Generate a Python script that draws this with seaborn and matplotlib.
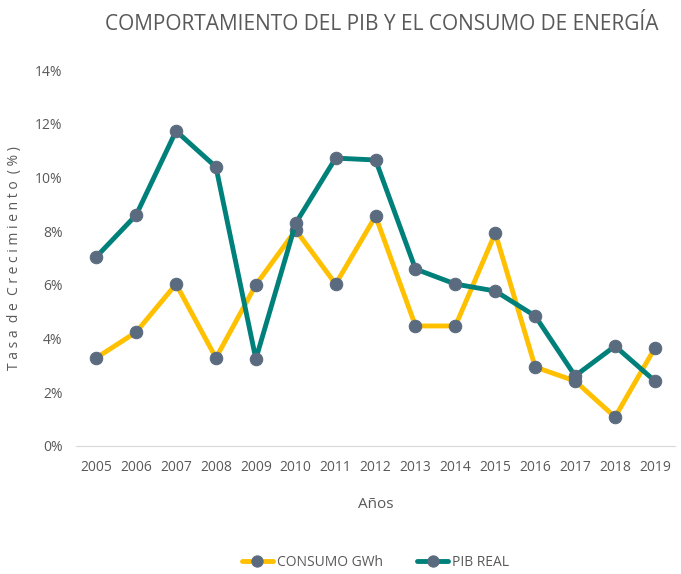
import pandas as pd
import numpy as np
import matplotlib
matplotlib.use('Agg')
import matplotlib.pyplot as plt
import seaborn as sns

# data
years = ['2005', '2006', '2007', '2008', '2009', '2010', '2011', '2012',
         '2013', '2014', '2015', '2016', '2017', '2018', '2019']
consumo = [3.28, 4.24, 6.03, 3.28, 6.0, 8.04, 6.03, 8.56,
           4.47, 4.47, 7.93, 2.94, 2.42, 1.08, 3.65]
pib = [7.04, 8.6, 11.73, 10.39, 3.24, 8.30, 10.72, 10.65,
       6.59, 6.03, 5.77, 4.84, 2.61, 3.72, 2.42]

df = pd.DataFrame({'Año': years * 2,
                   'Tasa': consumo + pib,
                   'Serie': ['CONSUMO GWh'] * len(years) + ['PIB REAL'] * len(years)})

sns.set_style('white')
plt.rcParams['font.family'] = ['Open Sans', 'DejaVu Sans']

fig = plt.figure(figsize=(6.81, 5.74), dpi=100)
ax = fig.add_axes([0.112, 0.223, 0.879, 0.655])

txt = '#595959'
sns.lineplot(data=df, x='Año', y='Tasa', hue='Serie', sort=False,
             palette={'CONSUMO GWh': '#FFC000', 'PIB REAL': '#00807A'},
             linewidth=3.5, marker='o', markersize=9,
             markerfacecolor='#5B6B7F', markeredgecolor='#5B6B7F', ax=ax)

ax.set_ylim(0, 14)
ax.set_xlim(-0.5, len(years) - 0.5)
ax.set_yticks(np.arange(0, 15, 2))
ax.set_yticklabels([f'{v}%' for v in range(0, 15, 2)])
for s in ['left', 'right', 'top']:
    ax.spines[s].set_visible(False)
ax.spines['bottom'].set_color('#D9D9D9')
ax.tick_params(axis='both', length=0, colors=txt, labelsize=10, pad=10)

ax.set_xlabel('Años', color=txt, fontsize=11, labelpad=16)
ax.set_ylabel('T a s a  d e  C r e c i m i e n t o  ( % )', color=txt, fontsize=10)
ax.yaxis.set_label_coords(-0.09, 0.5)
fig.suptitle('COMPORTAMIENTO DEL PIB Y EL CONSUMO DE ENERGÍA', x=0.56, y=0.975,
             color=txt, fontsize=15)

ax.legend(loc='center', bbox_to_anchor=(0.5, -0.31), ncol=2, frameon=False,
          fontsize=10, labelcolor=txt, handlelength=2.2, handletextpad=0.3,
          columnspacing=2.5, markerscale=0.9)

plt.savefig('out.png', dpi=100)
plt.close()
